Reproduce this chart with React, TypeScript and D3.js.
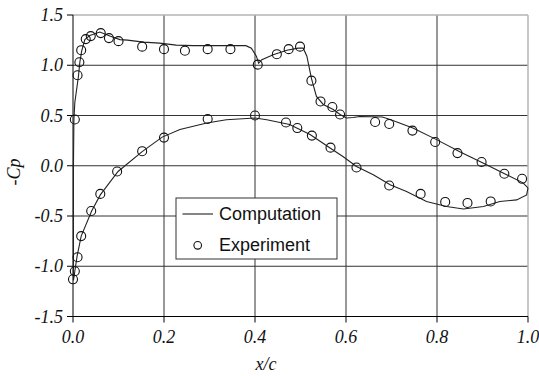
import React from "react";
import * as d3 from "d3";

// Computation: path from lower-surface trailing edge → leading edge → upper-surface trailing edge
const compX = [
  1.0, 0.997, 0.975, 0.938, 0.902, 0.858, 0.821, 0.777, 0.733, 0.697, 0.66, 0.623, 0.594, 0.565,
  0.521, 0.476, 0.426, 0.4, 0.337, 0.294, 0.235, 0.196, 0.152, 0.099, 0.06, 0.041, 0.018, 0.009,
  0.004, 0.001,
  0.001, 0.002, 0.004, 0.012, 0.015, 0.019, 0.026, 0.037, 0.059, 0.081, 0.103, 0.12, 0.155, 0.19,
  0.227, 0.264, 0.38, 0.392, 0.403, 0.408, 0.415, 0.44, 0.47, 0.495, 0.506, 0.514, 0.524, 0.535,
  0.55, 0.572, 0.587, 0.601, 0.616, 0.63, 0.68, 0.697, 0.747, 0.799, 0.85, 0.901, 0.953, 0.989, 1.0,
];
const compY = [
  -0.22, -0.29, -0.34, -0.355, -0.405, -0.43, -0.405, -0.355, -0.256, -0.19, -0.09, -0.007, 0.09,
  0.176, 0.31, 0.41, 0.458, 0.475, 0.458, 0.425, 0.36, 0.285, 0.14, -0.057, -0.29, -0.45, -0.7,
  -0.9, -1.05, -1.14,
  0.0, 0.46, 0.63, 0.89, 1.03, 1.14, 1.255, 1.295, 1.33, 1.29, 1.255, 1.25, 1.23, 1.22, 1.2, 1.195,
  1.195, 1.17, 1.09, 1.02, 1.056, 1.105, 1.15, 1.17, 1.17, 1.09, 0.87, 0.69, 0.61, 0.56, 0.51,
  0.475, 0.48, 0.49, 0.485, 0.46, 0.375, 0.26, 0.14, 0.027, -0.09, -0.17, -0.22,
];

// Experiment: upper surface
const expUpperX = [
  0.004, 0.01, 0.014, 0.018, 0.028, 0.039, 0.061, 0.079, 0.1, 0.152, 0.2, 0.246, 0.296, 0.346,
  0.406, 0.448, 0.474, 0.499, 0.524, 0.544, 0.57, 0.587, 0.664, 0.695, 0.746, 0.796, 0.845,
  0.898, 0.948, 0.987,
];
const expUpperY = [
  0.46, 0.9, 1.03, 1.15, 1.26, 1.29, 1.32, 1.27, 1.24, 1.185, 1.16, 1.145, 1.16, 1.16, 1.006,
  1.11, 1.16, 1.185, 0.847, 0.64, 0.585, 0.51, 0.435, 0.415, 0.35, 0.236, 0.126, 0.037, -0.08,
  -0.13,
];
// Experiment: lower surface
const expLowerX = [
  0.0, 0.004, 0.01, 0.018, 0.04, 0.06, 0.097, 0.152, 0.2, 0.296, 0.4, 0.468, 0.493, 0.525, 0.566,
  0.623, 0.695, 0.764, 0.818, 0.867, 0.918,
];
const expLowerY = [
  -1.13, -1.05, -0.91, -0.7, -0.45, -0.28, -0.057, 0.145, 0.28, 0.465, 0.5, 0.43, 0.375, 0.3,
  0.18, -0.017, -0.196, -0.28, -0.36, -0.37, -0.355,
];

const xTicks = [0, 0.2, 0.4, 0.6, 0.8, 1.0];
const yTicks = [-1.5, -1.0, -0.5, 0.0, 0.5, 1.0, 1.5];

export default function App() {
  const W = 539;
  const H = 376;
  const x = d3.scaleLinear().domain([0, 1]).range([73, 528]);
  const y = d3.scaleLinear().domain([-1.5, 1.5]).range([316.5, 15]);

  const comp = compX.map((v, i) => [v, compY[i]] as [number, number]);
  const line = d3
    .line<[number, number]>()
    .x((d) => x(d[0]))
    .y((d) => y(d[1]));

  const exps = [
    ...expUpperX.map((v, i) => [v, expUpperY[i]]),
    ...expLowerX.map((v, i) => [v, expLowerY[i]]),
  ];

  const serif = "'Liberation Serif', 'Times New Roman', serif";
  const sans = "'Liberation Sans', Arial, sans-serif";
  const [x0, x1] = x.range();
  const [y0, y1] = y.range();

  return (
    <svg
      width={W}
      height={H}
      style={{ position: "absolute", left: 0, top: 0, background: "#fff" }}
    >
      <rect x={0} y={0} width={W} height={H} fill="#fff" />
      {/* grid */}
      {xTicks.slice(1, -1).map((t) => (
        <line key={"gx" + t} x1={x(t)} x2={x(t)} y1={y1} y2={y0} stroke="#333" strokeWidth={1} />
      ))}
      {yTicks.slice(1, -1).map((t) => (
        <line key={"gy" + t} x1={x0} x2={x1} y1={y(t)} y2={y(t)} stroke="#333" strokeWidth={1} />
      ))}
      {/* light frame top/right */}
      <line x1={x0} x2={x1} y1={y1} y2={y1} stroke="#b5b5b5" strokeWidth={1.5} />
      <line x1={x1} x2={x1} y1={y1} y2={y0} stroke="#b5b5b5" strokeWidth={1.5} />
      {/* axes */}
      <line x1={x0} x2={x0} y1={y1} y2={y0} stroke="#000" strokeWidth={1} />
      <line x1={x0} x2={x1} y1={y0} y2={y0} stroke="#000" strokeWidth={1} />
      {yTicks.map((t) => (
        <g key={"ty" + t}>
          <line x1={x0 - 6} x2={x0} y1={y(t)} y2={y(t)} stroke="#000" />
          <text
            x={x0 - 10}
            y={y(t) + 6}
            textAnchor="end"
            fontFamily={serif}
            fontStyle="italic"
            fontSize={18}
            fill="#111"
          >
            {t.toFixed(1)}
          </text>
        </g>
      ))}
      {xTicks.map((t) => (
        <g key={"tx" + t}>
          <line x1={x(t)} x2={x(t)} y1={y0} y2={y0 + 6} stroke="#000" />
          <text
            x={x(t)}
            y={343}
            textAnchor="middle"
            fontFamily={serif}
            fontStyle="italic"
            fontSize={18}
            fill="#111"
          >
            {t.toFixed(1)}
          </text>
        </g>
      ))}
      <text
        x={266}
        y={370}
        textAnchor="middle"
        fontFamily={serif}
        fontStyle="italic"
        fontSize={18}
        fill="#111"
      >
        x/c
      </text>
      <text
        transform={`translate(20,172) rotate(-90)`}
        textAnchor="middle"
        fontFamily={serif}
        fontStyle="italic"
        fontSize={18}
        fill="#111"
      >
        -Cp
      </text>
      {/* computation */}
      <path d={line(comp) || ""} fill="none" stroke="#222" strokeWidth={1.1} />
      {/* experiment */}
      {exps.map((d, i) => (
        <circle key={"e" + i} cx={x(d[0])} cy={y(d[1])} r={4.5} fill="none" stroke="#111" strokeWidth={1.1} />
      ))}
      {/* legend */}
      <rect x={176} y={198} width={161} height={61} fill="#fff" stroke="#333" strokeWidth={1} />
      <line x1={182.5} x2={213} y1={214} y2={214} stroke="#222" strokeWidth={1.1} />
      <text x={219} y={220} fontFamily={sans} fontSize={18} fill="#111">
        Computation
      </text>
      <circle cx={197.7} cy={245.3} r={3.8} fill="none" stroke="#111" strokeWidth={1.1} />
      <text x={219} y={251} fontFamily={sans} fontSize={18} fill="#111">
        Experiment
      </text>
    </svg>
  );
}
